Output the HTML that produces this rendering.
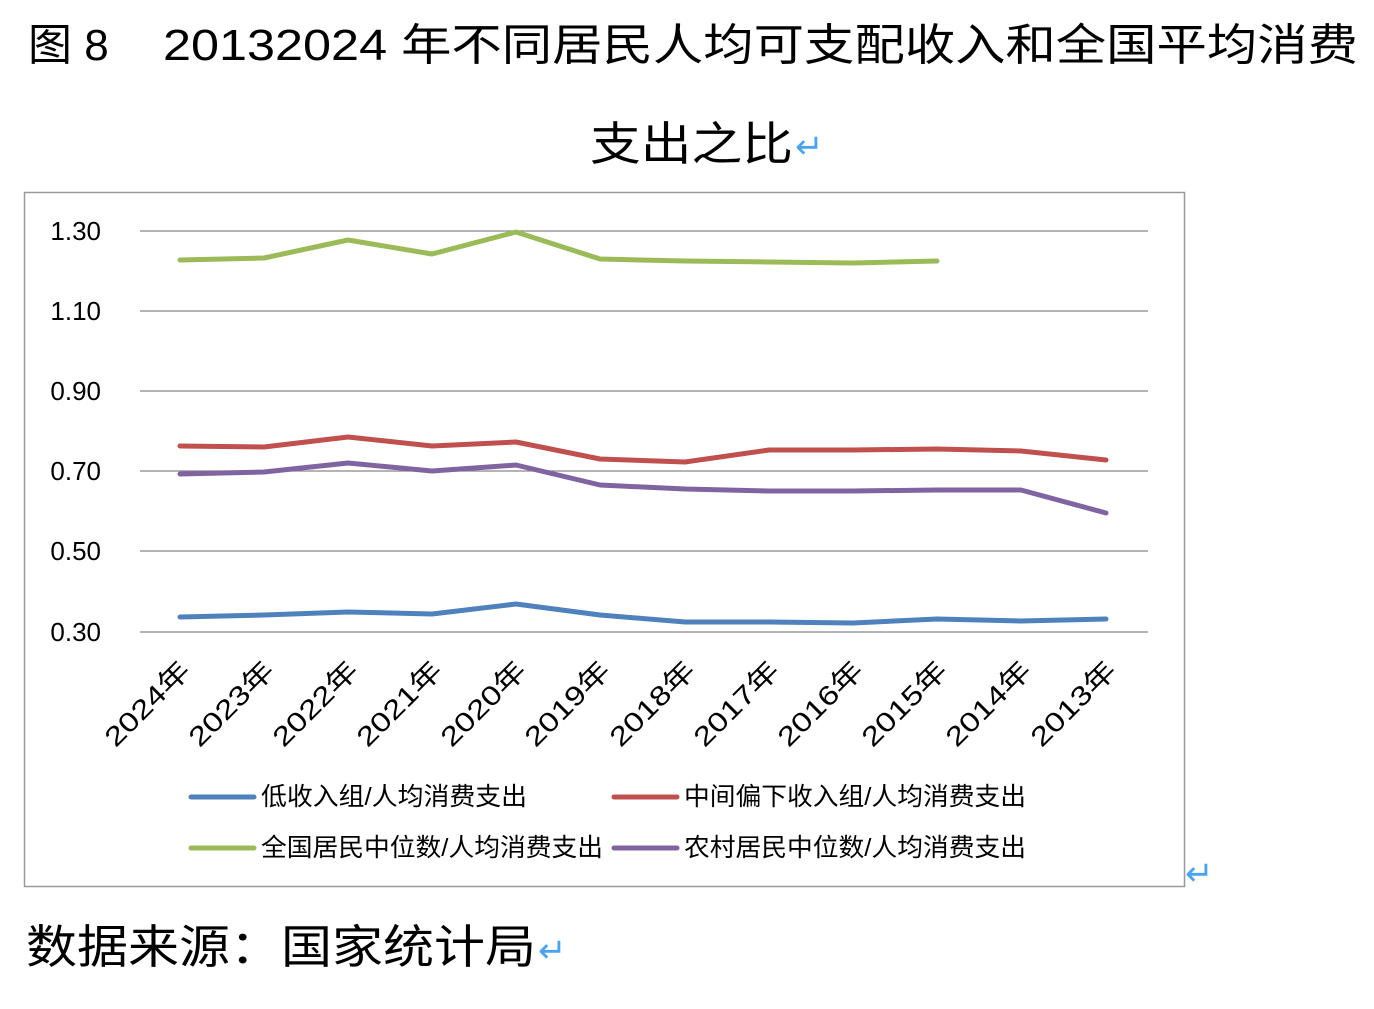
<!DOCTYPE html>
<html><head><meta charset="utf-8"><style>
body{margin:0;background:#fff;width:1374px;height:1004px;overflow:hidden;font-family:"Liberation Sans","Noto Sans CJK SC",sans-serif;}
</style></head><body>
<svg width="1374" height="1004" xmlns="http://www.w3.org/2000/svg" font-family="Liberation Sans, Noto Sans CJK SC, sans-serif">
<text x="28" y="60" font-size="44" fill="#000">图 8</text>
<text x="163" y="60" font-size="44" fill="#000" textLength="1195" lengthAdjust="spacingAndGlyphs">20132024 年不同居民人均可支配收入和全国平均消费</text>
<text x="590" y="160" font-size="46" fill="#000" textLength="203" lengthAdjust="spacingAndGlyphs">支出之比</text>
<text x="795" y="158" font-size="34" fill="#4aa3f0">↵</text>
<rect x="24.5" y="192.5" width="1160" height="694" fill="none" stroke="#999" stroke-width="1.5"/>
<text x="1185" y="885" font-size="34" fill="#4aa3f0">↵</text>
<g stroke="#888" stroke-width="1.3">
<line x1="140" y1="231" x2="1148" y2="231"/><line x1="140" y1="311" x2="1148" y2="311"/>
<line x1="140" y1="391" x2="1148" y2="391"/><line x1="140" y1="471" x2="1148" y2="471"/>
<line x1="140" y1="551" x2="1148" y2="551"/><line x1="140" y1="632" x2="1148" y2="632"/>
</g>
<g font-size="26" fill="#000" text-anchor="end">
<text x="101" y="240">1.30</text><text x="101" y="320">1.10</text><text x="101" y="400">0.90</text>
<text x="101" y="480">0.70</text><text x="101" y="560">0.50</text><text x="101" y="641">0.30</text>
</g>
<g fill="none" stroke-width="5" stroke-linejoin="round" stroke-linecap="round">
<polyline stroke="#9bbb59" points="180,260 264,258 348,240 432,254 516,232 600,259 685,261 769,262 853,263 937,261"/>
<polyline stroke="#c0504d" points="180,446 264,447 348,437 432,446 516,442 600,459 685,462 769,450 853,450 937,449 1021,451 1106,460"/>
<polyline stroke="#8064a2" points="180,474 264,472 348,463 432,471 516,465 600,485 685,489 769,491 853,491 937,490 1021,490 1106,513"/>
<polyline stroke="#4f81bd" points="180,617 264,615 348,612 432,614 516,604 600,615 685,622 769,622 853,623 937,619 1021,621 1106,619"/>
</g>
<g font-size="27" fill="#000" text-anchor="end">
<text transform="translate(192,672) rotate(-45)" textLength="108" lengthAdjust="spacingAndGlyphs">2024年</text>
<text transform="translate(276,672) rotate(-45)" textLength="108" lengthAdjust="spacingAndGlyphs">2023年</text>
<text transform="translate(360,672) rotate(-45)" textLength="108" lengthAdjust="spacingAndGlyphs">2022年</text>
<text transform="translate(444,672) rotate(-45)" textLength="108" lengthAdjust="spacingAndGlyphs">2021年</text>
<text transform="translate(528,672) rotate(-45)" textLength="108" lengthAdjust="spacingAndGlyphs">2020年</text>
<text transform="translate(612,672) rotate(-45)" textLength="108" lengthAdjust="spacingAndGlyphs">2019年</text>
<text transform="translate(697,672) rotate(-45)" textLength="108" lengthAdjust="spacingAndGlyphs">2018年</text>
<text transform="translate(781,672) rotate(-45)" textLength="108" lengthAdjust="spacingAndGlyphs">2017年</text>
<text transform="translate(865,672) rotate(-45)" textLength="108" lengthAdjust="spacingAndGlyphs">2016年</text>
<text transform="translate(949,672) rotate(-45)" textLength="108" lengthAdjust="spacingAndGlyphs">2015年</text>
<text transform="translate(1033,672) rotate(-45)" textLength="108" lengthAdjust="spacingAndGlyphs">2014年</text>
<text transform="translate(1118,672) rotate(-45)" textLength="108" lengthAdjust="spacingAndGlyphs">2013年</text>
</g>
<g stroke-width="5" stroke-linecap="round">
<line x1="191" y1="797" x2="254" y2="797" stroke="#4f81bd"/>
<line x1="614" y1="797" x2="677" y2="797" stroke="#c0504d"/>
<line x1="191" y1="848" x2="254" y2="848" stroke="#9bbb59"/>
<line x1="614" y1="848" x2="677" y2="848" stroke="#8064a2"/>
</g>
<g font-size="25" fill="#000">
<text x="261" y="805" textLength="266" lengthAdjust="spacingAndGlyphs">低收入组/人均消费支出</text>
<text x="684" y="805" textLength="342" lengthAdjust="spacingAndGlyphs">中间偏下收入组/人均消费支出</text>
<text x="261" y="856" textLength="342" lengthAdjust="spacingAndGlyphs">全国居民中位数/人均消费支出</text>
<text x="684" y="856" textLength="342" lengthAdjust="spacingAndGlyphs">农村居民中位数/人均消费支出</text>
</g>
<text x="26" y="963" font-size="46" fill="#000" textLength="510" lengthAdjust="spacingAndGlyphs">数据来源：国家统计局</text>
<text x="538" y="962" font-size="34" fill="#4aa3f0">↵</text>
</svg>
</body></html>
